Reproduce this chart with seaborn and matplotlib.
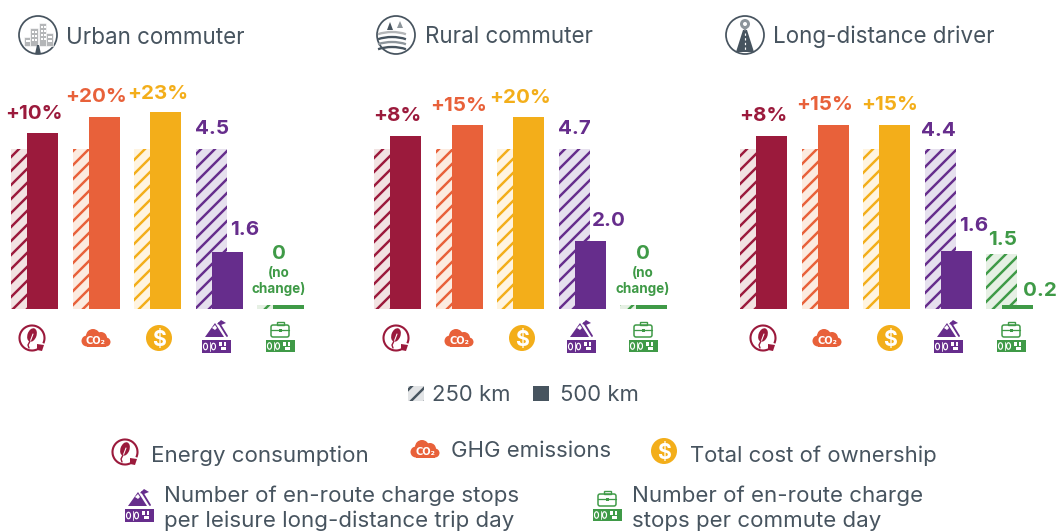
import pandas as pd
import seaborn as sns
import matplotlib.pyplot as plt
from matplotlib.patches import Arc, Circle, Ellipse, FancyBboxPatch, Polygon, Rectangle

W, H = 1058, 531
DPI = 84  # hatch tile follows dpi, 84 gives the 14px stripe spacing of the original
FONT = "Inter"
TEXT = "#47545f"

metrics = ["energy", "ghg", "tco", "leisure", "commute"]
colors = ["#9b1a3c", "#e8613a", "#f3ae1a", "#662d8c", "#3f9a47"]
tints = ["#f2e3e2", "#fcebe0", "#fff4e0", "#e6e0ee", "#e6f0e4"]

panels = ["Urban commuter", "Rural commuter", "Long-distance driver"]
energy_pct = [10, 8, 8]
ghg_pct = [20, 15, 15]
tco_pct = [23, 20, 15]
leisure_250 = [4.5, 4.7, 4.4]
leisure_500 = [1.6, 2.0, 1.6]
commute_250 = [0, 0, 1.5]
commute_500 = [0, 0, 0.2]
# the thin green bars are drawn at the same sliver height whatever they stand for
commute_250_drawn = [0.11, 0.11, 1.5]
commute_500_drawn = [0.11, 0.11, 0.11]

# layout in pixels
ax_left = [3.7, 366.7, 732.7]
ax_width = 308
baseline = 309
px_per_unit = 1.6
label_x = [[34, 96, 158, 212, 245, 279], [397, 459, 520, 574, 609, 643], [763, 825, 890, 938, 974, 1003, 1040]]
label_y = [[114, 97, 94, 129, 230, 254], [116, 106, 98, 129, 221, 254], [116, 105, 105, 131, 226, 240, 291]]
icon_x = [[32, 96, 159, 216, 280], [396, 459, 522, 581, 643], [763, 827, 890, 948, 1011]]

sns.set_theme(style="white")
plt.rcParams["font.family"] = [FONT, "DejaVu Sans"]
plt.rcParams["hatch.linewidth"] = 2.1

fig = plt.figure(figsize=(W / DPI, H / DPI), dpi=DPI)


def panel_frame(i):
    n = leisure_250[i]
    return pd.DataFrame({
        "metric": metrics * 2,
        "distance": ["250 km"] * 5 + ["500 km"] * 5,
        "height": [100, 100, 100, 100, commute_250_drawn[i] / n * 100]
        + [100 + energy_pct[i], 100 + ghg_pct[i], 100 + tco_pct[i],
           leisure_500[i] / n * 100, commute_500_drawn[i] / n * 100],
    })


for i in range(3):
    ax_h = 224
    ax = fig.add_axes([ax_left[i] / W, (H - baseline) / H, ax_width / W, ax_h / H])
    sns.barplot(data=panel_frame(i), x="metric", y="height", hue="distance",
                width=0.52, gap=-0.94, legend=False, ax=ax, linewidth=0)
    for j, c in enumerate(colors):
        hatched = ax.containers[0][j]
        hatched.set(facecolor=tints[j], edgecolor=c, hatch="//", linewidth=0)
        ax.containers[1][j].set(facecolor=c, edgecolor=c, linewidth=0)
    ax.set_xlim(-0.5, 4.5)
    ax.set_ylim(0, ax_h / px_per_unit)
    ax.axis("off")

ov = fig.add_axes([0, 0, 1, 1], zorder=5)
ov.set_xlim(0, W)
ov.set_ylim(H, 0)
ov.axis("off")
ov.patch.set_alpha(0)


def energy_icon(x, y, r=12.5):
    c = colors[0]
    ov.add_patch(Arc((x, y), 2 * r, 2 * r, theta1=65, theta2=25, color=c, lw=1.8))
    ov.add_patch(Ellipse((x, y - 3), 9, 14, angle=20, color=c, lw=0))
    ov.plot([x - 2, x + 1], [y + 4, y - 4], color="white", lw=0.9)
    ov.plot([x - 2, x - 4, x - 3], [y + 3, y + 7, y + 10], color=c, lw=1.2)
    ov.add_patch(Polygon([[x + 5, y + 6], [x + 12, y + 7], [x + 10, y + 13], [x + 5, y + 12]], color=c, lw=0))


def cloud_icon(x, y, s=1.0):
    c = colors[1]
    for dx, dy, r in [(-9, 3, 5.5), (-3, -2, 7), (5, 0, 6), (10, 4, 4.5)]:
        ov.add_patch(Circle((x + dx * s, y + dy * s), r * s, color=c, lw=0))
    ov.add_patch(Rectangle((x - 9 * s, y + 1 * s), 19 * s, 7.5 * s, color=c, lw=0))
    ov.text(x, y + 3 * s, "CO₂", color="white", fontsize=8.5 * s, fontweight="bold",
            ha="center", va="center", family=["DejaVu Sans"])


def dollar_icon(x, y, r=13):
    ov.add_patch(Circle((x, y), r, color=colors[2], lw=0))
    ov.text(x, y, "$", color="white", fontsize=1.4 * r, fontweight="bold", ha="center", va="center_baseline")


def counter_box(x, y, c, w=29, h=12):
    ov.add_patch(Rectangle((x - w / 2, y), w, h, color=c, lw=0))
    for dx in (-10.5, -2.5):
        ov.add_patch(Ellipse((x + dx, y + h / 2), 4, 6.5, fill=False, ec="white", lw=1))
    ov.plot([x - 6.5, x - 6.5], [y + 2, y + h - 2], color="white", lw=0.7)
    ov.add_patch(Rectangle((x + 3, y + 2), 3, 3.5, color="white", lw=0))
    ov.add_patch(Rectangle((x + 8, y + 2), 2, 3.5, color="white", lw=0))
    ov.add_patch(Rectangle((x + 5, y + 7), 5, 3, color="white", lw=0))


def leisure_icon(x, y, s=1.0):
    c = colors[3]
    ov.add_patch(Polygon([[x - 11 * s, y - 3 * s], [x - 1 * s, y - 17 * s], [x + 8 * s, y - 3 * s]], color=c, lw=0))
    ov.add_patch(Polygon([[x - 4 * s, y - 12 * s], [x - 1 * s, y - 10 * s], [x + 1 * s, y - 12 * s], [x - 1 * s, y - 15 * s]],
                         color="white", lw=0))
    ov.plot([x + 3 * s, x + 11 * s], [y - 17 * s, y - 4 * s], color=c, lw=1.6)
    ov.add_patch(Polygon([[x + 1 * s, y - 16 * s], [x + 5 * s, y - 20 * s], [x + 10 * s, y - 17 * s], [x + 5 * s, y - 15 * s]],
                         color=c, lw=0))
    counter_box(x, y, c, w=29 * s, h=13 * s)


def commute_icon(x, y, s=1.0):
    c = colors[4]
    ov.add_patch(FancyBboxPatch((x - 9 * s, y - 15 * s), 18 * s, 12 * s, boxstyle="round,pad=0,rounding_size=2",
                                fill=False, ec=c, lw=1.3))
    ov.add_patch(Rectangle((x - 3.5 * s, y - 18 * s), 7 * s, 3 * s, fill=False, ec=c, lw=1.2))
    ov.plot([x - 9 * s, x + 9 * s], [y - 10 * s, y - 10 * s], color=c, lw=1.1)
    ov.add_patch(Rectangle((x - 1.5 * s, y - 11 * s), 3 * s, 3 * s, color=c, lw=0))
    counter_box(x, y, c, w=29 * s, h=12 * s)


def city_icon(x, y, r=19):
    ov.add_patch(Circle((x, y), r, fill=False, ec=TEXT, lw=1.5))
    for dx, dy, w, h in [(-14, 2, 6, 9), (-8, -7, 8, 18), (1, -12, 7, 23), (8, -2, 7, 13)]:
        ov.add_patch(Rectangle((x + dx, y + dy), w, h, color="#b4b6b8", ec="white", lw=0.5))
    for dx, dy in [(-6, -4), (-3, -4), (-6, 0), (-3, 0), (-6, 4), (-3, 4), (3, -9), (6, -9), (3, -5), (6, -5),
                   (3, -1), (6, -1), (3, 3), (6, 3), (10, 1), (12, 1), (10, 5), (12, 5), (-12, 5), (-10, 5)]:
        ov.add_patch(Rectangle((x + dx, y + dy), 1.5, 2, color="white", lw=0))
    ov.add_patch(Polygon([[x - 1, y + 10], [x + 1, y + 10], [x + 3, y + r], [x - 3, y + r]], color=TEXT, lw=0))


def rural_icon(x, y, r=19):
    ov.add_patch(Circle((x, y), r, fill=False, ec=TEXT, lw=1.5))
    for dy, col in [(-3, "#b4b6b8"), (2, TEXT), (7, "#8d959b"), (12, TEXT)]:
        ov.add_patch(Arc((x - 4, y + dy + 12), 48, 24, theta1=215, theta2=325, color=col, lw=2))
    ov.add_patch(Polygon([[x - 9, y - 5], [x - 6, y - 13], [x - 3, y - 5]], color=TEXT, lw=0))
    ov.add_patch(Polygon([[x + 1, y - 7], [x + 4, y - 14], [x + 7, y - 7]], color="#8d959b", lw=0))


def road_icon(x, y, r=19):
    ov.add_patch(Circle((x, y), r, fill=False, ec=TEXT, lw=1.5))
    ov.add_patch(Polygon([[x - 2, y - 5], [x + 2, y - 5], [x + 9, y + r - 2], [x - 9, y + r - 2]], color=TEXT, lw=0))
    ov.plot([x, x], [y - 2, y + r - 3], color="white", lw=1, ls=(0, (2, 2)))
    ov.add_patch(Circle((x, y - 11), 5, color="#8d959b", lw=0))
    ov.add_patch(Circle((x, y - 11), 2, color="white", lw=0))
    ov.add_patch(Polygon([[x - 4, y - 9], [x + 4, y - 9], [x, y - 4]], color="#8d959b", lw=0))


def stop_label(x, y, txt, c, size=17.6):
    ov.text(x, y, txt, color=c, fontsize=size, fontweight="bold", ha="center", va="center")


# panel headers
title_x = [66, 425, 773]
title_y = [38, 37, 37]
head_icons = [(city_icon, 38), (rural_icon, 396), (road_icon, 745)]
for i, name in enumerate(panels):
    fn, hx = head_icons[i]
    fn(hx, 35)
    ov.text(title_x[i], title_y[i], name, color=TEXT, fontsize=19.2, ha="left", va="center")

    labels = [f"+{energy_pct[i]}%", f"+{ghg_pct[i]}%", f"+{tco_pct[i]}%",
              f"{leisure_250[i]}", f"{leisure_500[i]}"]
    label_colors = colors[:4] + [colors[3]]
    if commute_250[i] == 0 and commute_500[i] == 0:
        labels.append("0")
        label_colors.append(colors[4])
        ov.text(label_x[i][5], 281, "(no\nchange)", color=colors[4], fontsize=11.5, fontweight="bold",
                ha="center", va="center", linespacing=1.1)
    else:
        labels += [f"{commute_250[i]}", f"{commute_500[i]}"]
        label_colors += [colors[4], colors[4]]
    for lx, ly, t, c in zip(label_x[i], label_y[i], labels, label_colors):
        stop_label(lx, ly, t, c)

    ix = icon_x[i]
    energy_icon(ix[0], 338)
    cloud_icon(ix[1], 338)
    dollar_icon(ix[2], 338)
    leisure_icon(ix[3], 340)
    commute_icon(ix[4], 340)

# distance key
ov.add_patch(Rectangle((408, 386), 16, 15, facecolor="#e2e4e6", edgecolor=TEXT, hatch="//", lw=0))
ov.text(432, 395, "250 km", color=TEXT, fontsize=18.9, ha="left", va="center")
ov.add_patch(Rectangle((533, 386), 16, 15, color=TEXT, lw=0))
ov.text(560, 395, "500 km", color=TEXT, fontsize=18.9, ha="left", va="center")

# metric key
energy_icon(125, 452)
ov.text(151, 456, "Energy consumption", color=TEXT, fontsize=19.1, ha="left", va="center")
cloud_icon(425, 449)
ov.text(451, 451, "GHG emissions", color=TEXT, fontsize=19.0, ha="left", va="center")
dollar_icon(664, 451)
ov.text(690, 456, "Total cost of ownership", color=TEXT, fontsize=18.9, ha="left", va="center")
leisure_icon(139, 509)
ov.text(164, 496, "Number of en-route charge stops", color=TEXT, fontsize=19.1, ha="left", va="center")
ov.text(164, 521, "per leisure long-distance trip day", color=TEXT, fontsize=19.1, ha="left", va="center")
commute_icon(607, 509)
ov.text(632, 496, "Number of en-route charge", color=TEXT, fontsize=19.1, ha="left", va="center")
ov.text(632, 521, "stops per commute day", color=TEXT, fontsize=19.1, ha="left", va="center")

fig.savefig("out.png", dpi=DPI)
